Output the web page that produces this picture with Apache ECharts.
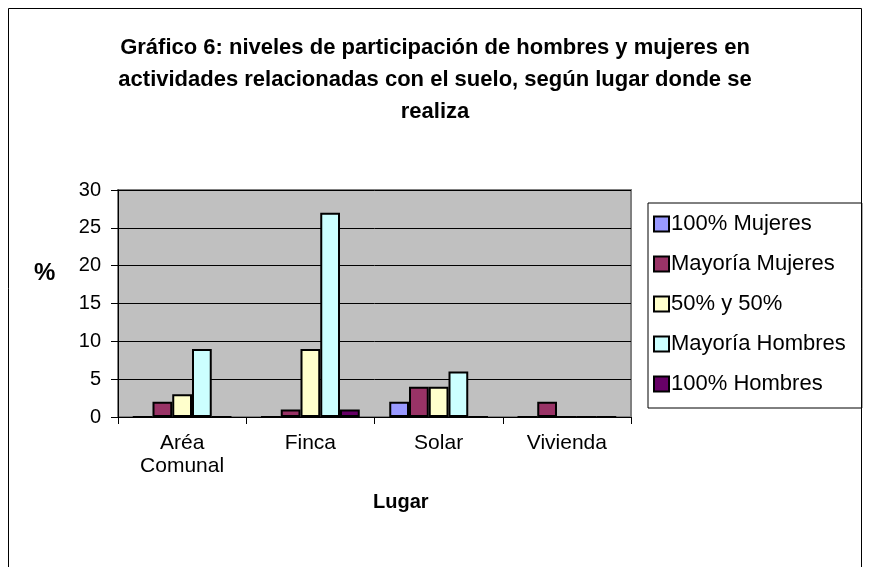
<!DOCTYPE html>
<html>
<head>
<meta charset="utf-8">
<script src="https://cdn.jsdelivr.net/npm/echarts@6/dist/echarts.min.js"></script>
<style>
html,body{margin:0;padding:0;background:#fff;}
#chart{width:870px;height:567px;}
</style>
</head>
<body>
<div id="chart"></div>
<script>
const categories = ['Aréa\nComunal', 'Finca', 'Solar', 'Vivienda'];
const seriesNames = ['100% Mujeres', 'Mayoría Mujeres', '50% y 50%', 'Mayoría Hombres', '100% Hombres'];
const mujeres100 = [0, 0, 2, 0];
const mayoriaMujeres = [2, 1, 4, 2];
const mitad = [3, 9, 4, 0];
const mayoriaHombres = [9, 27, 6, 0];
const hombres100 = [0, 1, 0, 0];
const yTicks = [0, 5, 10, 15, 20, 25, 30];
const titleText = 'Gráfico 6: niveles de participación de hombres y mujeres en\nactividades relacionadas con el suelo, según lugar donde se\nrealiza';

const colors = ['#9999FF', '#993366', '#FFFFCC', '#CCFFFF', '#660066'];
const values = [mujeres100, mayoriaMujeres, mitad, mayoriaHombres, hombres100];
const font = "'Liberation Sans', Arial, sans-serif";

const chart = echarts.init(document.getElementById('chart'));
chart.setOption({
  animation: false,
  backgroundColor: '#ffffff',
  title: {
    text: titleText,
    left: 'center',
    top: 27,
    textStyle: {fontFamily: font, fontWeight: 'bold', fontSize: 22, lineHeight: 32, color: '#000'}
  },
  graphic: [
    {type: 'rect', shape: {x: 8.5, y: 8.5, width: 853, height: 580}, style: {fill: 'none', stroke: '#000', lineWidth: 1}, silent: true},
    {type: 'text', left: 34, top: 261, style: {text: '%', fontFamily: font, fontWeight: 'bold', fontSize: 24, fill: '#000'}},
    {type: 'text', left: 373, top: 492, style: {text: 'Lugar', fontFamily: font, fontWeight: 'bold', fontSize: 20, fill: '#000'}}
  ],
  legend: {
    orient: 'vertical',
    left: 648,
    top: 203,
    padding: [10, 16, 13, 5],
    itemGap: 18,
    itemWidth: 15,
    itemHeight: 15,
    borderColor: '#000',
    borderWidth: 1,
    icon: 'rect',
    data: seriesNames,
    textStyle: {fontFamily: font, fontSize: 22, color: '#000', padding: [0, 0, 0, -3]}
  },
  grid: {left: 118, right: 239, top: 190, bottom: 150, show: true, backgroundColor: '#C0C0C0', borderColor: '#808080', borderWidth: 2},
  xAxis: {
    type: 'category',
    data: categories,
    axisLine: {lineStyle: {color: '#000', width: 1}},
    axisTick: {show: true, alignWithLabel: false, length: 7, lineStyle: {color: '#000'}},
    axisLabel: {fontFamily: font, fontSize: 21, color: '#000', margin: 15, lineHeight: 23}
  },
  yAxis: {
    type: 'value',
    min: 0,
    max: 30,
    interval: 5,
    axisLine: {show: true, lineStyle: {color: '#000', width: 1}},
    axisTick: {show: true, length: 7, lineStyle: {color: '#000'}},
    splitLine: {show: true, lineStyle: {color: '#000', width: 1}},
    axisLabel: {fontFamily: font, fontSize: 20, color: '#000', margin: 17,
      formatter: v => yTicks.includes(v) ? String(v) : ''}
  },
  series: seriesNames.map((n, i) => ({
    name: n,
    type: 'bar',
    data: values[i],
    barGap: '0%',
    barCategoryGap: '23%',
    itemStyle: {color: colors[i], borderColor: '#000', borderWidth: 2}
  }))
});
</script>
</body>
</html>
